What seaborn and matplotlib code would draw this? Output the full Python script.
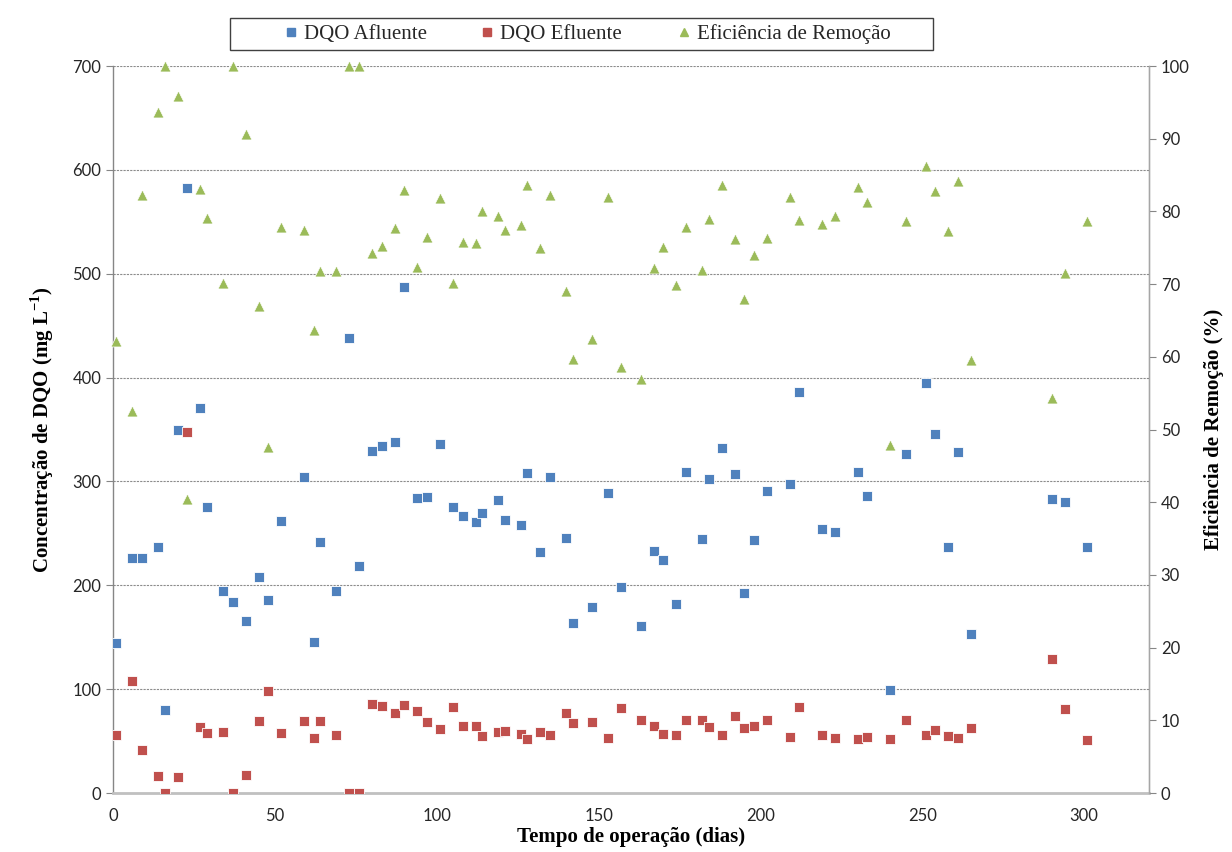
import matplotlib
matplotlib.use("Agg")
import matplotlib.pyplot as plt
from matplotlib.lines import Line2D
from matplotlib.patches import Rectangle
import seaborn as sns
import pandas as pd

# Operating days of the reactor
dias = [1, 6, 9, 14, 16, 20, 23, 27, 29, 34, 37, 41, 45, 48, 52, 59, 62, 64, 69, 73,
        76, 80, 83, 87, 90, 94, 97, 101, 105, 108, 112, 114, 119, 121, 126, 128, 132,
        135, 140, 142, 148, 153, 157, 163, 167, 170, 174, 177, 182, 184, 188, 192, 195,
        198, 202, 209, 212, 219, 223, 230, 233, 240, 245, 251, 254, 258, 261, 265, 290,
        294, 301]

# Influent COD (mg/L)
dqo_afluente = [144, 226, 226, 237, 80, 350, 583, 371, 275, 195, 184, 166, 208, 186, 262,
                304, 145, 242, 195, 438, 219, 329, 334, 338, 487, 284, 285, 336, 275, 267,
                261, 270, 282, 263, 258, 308, 232, 304, 246, 164, 179, 289, 198, 161, 233,
                224, 182, 309, 245, 302, 332, 307, 193, 244, 291, 298, 386, 254, 251, 309,
                286, 99, 326, 395, 346, 237, 328, 153, 283, 280, 237]

# Effluent COD (mg/L)
dqo_efluente = [56, 108, 41, 16, 0, 15, 348, 64, 58, 59, 0, 17, 69, 98, 58, 69, 53, 69, 56,
                0, 0, 86, 84, 77, 85, 79, 68, 62, 83, 65, 65, 55, 59, 60, 57, 52, 59, 56, 77,
                67, 68, 53, 82, 70, 65, 57, 56, 70, 70, 64, 56, 74, 63, 65, 70, 54, 83, 56,
                53, 52, 54, 52, 70, 56, 61, 55, 53, 63, 129, 81, 51]

# Removal efficiency (%)
eficiencia = [62.2, 52.5, 82.3, 93.7, 100, 95.9, 40.5, 83.1, 79.1, 70.2, 100, 90.7, 67.0,
              47.6, 77.9, 77.5, 63.7, 71.8, 71.8, 100, 100, 74.3, 75.2, 77.7, 82.9, 72.4,
              76.5, 81.9, 70.2, 75.8, 75.6, 80.0, 79.4, 77.4, 78.2, 83.7, 75.0, 82.2, 69.0,
              59.7, 62.4, 82.0, 58.6, 56.9, 72.2, 75.1, 69.9, 77.9, 72.0, 78.9, 83.7, 76.2,
              68.0, 74.0, 76.4, 82.0, 78.8, 78.3, 79.4, 83.4, 81.3, 47.9, 78.7, 86.3, 82.8,
              77.3, 84.2, 59.6, 54.4, 71.6, 78.7]

serie_nomes = ["DQO Afluente", "DQO Efluente", "Eficiência de Remoção"]
cores = ["#4F81BD", "#C0504D", "#9BBB59"]

df = pd.DataFrame({"dia": dias, "afl": dqo_afluente, "efl": dqo_efluente, "ef": eficiencia})

sns.set_style("white")
plt.rcParams["font.family"] = ["Lato", "DejaVu Sans"]
plt.rcParams["mathtext.fontset"] = "custom"
plt.rcParams["mathtext.rm"] = "Liberation Serif:bold"
plt.rcParams["mathtext.bf"] = "Liberation Serif:bold"

fig = plt.figure(figsize=(12.32, 8.52), dpi=100)
ax = fig.add_axes([0.0917, 0.0692, 0.8409, 0.8533])
ax2 = ax.twinx()

sns.scatterplot(data=df, x="dia", y="afl", ax=ax, marker="s", s=48, color=cores[0],
                edgecolor="white", linewidth=0.6, zorder=3, legend=False)
sns.scatterplot(data=df, x="dia", y="efl", ax=ax, marker="s", s=48, color=cores[1],
                edgecolor="white", linewidth=0.6, zorder=3, legend=False)
sns.scatterplot(data=df, x="dia", y="ef", ax=ax2, marker="^", s=62, color=cores[2],
                edgecolor="white", linewidth=0.5, zorder=3, legend=False, clip_on=False)

ax.set_xlim(0, 320)
ax.set_ylim(0, 700)
ax2.set_ylim(0, 100)
ax.set_xticks(range(0, 301, 50))
ax.set_yticks(range(0, 701, 100))
ax2.set_yticks(range(0, 101, 10))

ax.yaxis.grid(True, color="#8c8c8c", linestyle=(0, (2, 1)), linewidth=0.8)
ax.set_axisbelow(True)

for a in (ax, ax2):
    a.spines["top"].set_visible(False)
ax.spines["left"].set_color("#868686")
ax.spines["left"].set_linewidth(1.0)
ax.spines["bottom"].set_color("#c0c0c0")
ax.spines["bottom"].set_linewidth(2.0)
ax2.spines["right"].set_color("#a6a6a6")
ax2.spines["right"].set_linewidth(1.0)
ax2.spines["left"].set_visible(False)
ax2.spines["bottom"].set_visible(False)

tick_kw = dict(labelsize=12, labelcolor="#262626", color="#868686", length=5, width=0.8,
               direction="out")
ax.tick_params(axis="both", **tick_kw)
ax2.tick_params(axis="y", **tick_kw)
ax.tick_params(axis="x", pad=6)

serif_bold = dict(family="Liberation Serif", fontweight="bold", fontsize=15, color="black")
ax.set_xlabel("Tempo de operação (dias)", labelpad=2, **serif_bold)
ax.set_ylabel(r"Concentração de DQO (mg L$^{-1}$)", labelpad=12, **serif_bold)
ax2.set_ylabel("Eficiência de Remoção (%)", labelpad=10, **serif_bold)

# Legend: one entry per series, laid out along the top of the figure
marcadores = ["s", "s", "^"]
posicoes_x = [0.2313, 0.3904, 0.5503]
for nome, cor, mk, px in zip(serie_nomes, cores, marcadores, posicoes_x):
    h = Line2D([], [], marker=mk, linestyle="none", color=cor, markersize=5.5)
    fig.legend([h], [nome], loc="center left", bbox_to_anchor=(px, 0.960),
               frameon=False, prop={"family": "Liberation Serif", "size": 15},
               handlelength=0.6, handletextpad=0.3, borderpad=0, borderaxespad=0)
fig.patches.append(Rectangle((0.187, 0.941), 0.570, 0.038, transform=fig.transFigure,
                             fill=False, edgecolor="#404040", linewidth=1.0))

fig.savefig("out.png", dpi=100, facecolor="white")
